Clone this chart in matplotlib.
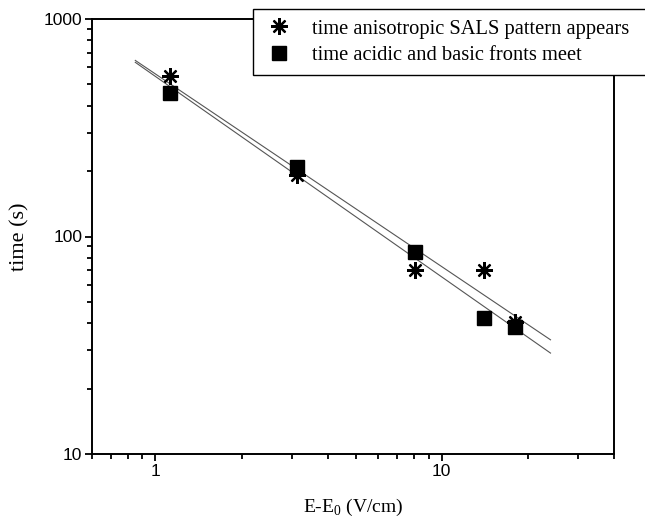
import numpy as np
import matplotlib
matplotlib.use("Agg")
import matplotlib.pyplot as plt
from matplotlib.ticker import LogLocator, NullFormatter, FixedLocator

# Data
field = [1.12, 3.12, 8.1, 14.1, 18.1]             # E-E0 (V/cm)
t_sals = [547, 192, 70, 70, 40.5]                 # time anisotropic SALS pattern appears (s)
t_fronts = [458, 209, 85, 42.4, 38.5]             # time acidic and basic fronts meet (s)
fit_range = [0.85, 24]
x_ticklabels = ["1", "10"]
y_ticklabels = ["10", "100", "1000"]
labels = ["time anisotropic SALS pattern appears", "time acidic and basic fronts meet"]

W, H = 645, 523
fig = plt.figure(figsize=(W / 100, H / 100), dpi=100)
ax = fig.add_axes([92 / W, 1 - 454 / H, (614 - 92) / W, (454 - 19) / H])
ax.set_xscale("log")
ax.set_yscale("log")

# least-squares fits in log-log space
xf = np.array(fit_range)
for y in (t_sals, t_fronts):
    p = np.polyfit(np.log10(field), np.log10(y), 1)
    ax.plot(xf, 10 ** np.polyval(p, np.log10(xf)), color="#555555", lw=0.8, zorder=2)

h1, = ax.plot(field, t_sals, linestyle="none", marker=(8, 2, 0), markersize=12,
              markeredgewidth=1.6, color="black", zorder=3)
h2, = ax.plot(field, t_fronts, linestyle="none", marker="s", markersize=9.5,
              color="black", zorder=3)

ax.set_xlim(0.6, 40)
ax.set_ylim(10, 1000)

ax.xaxis.set_major_locator(FixedLocator([1, 10]))
ax.set_xticklabels(x_ticklabels)
ax.xaxis.set_minor_locator(FixedLocator([0.6, 0.7, 0.8, 0.9, 2, 3, 4, 5, 6, 7, 8, 9, 20, 30, 40]))
ax.xaxis.set_minor_formatter(NullFormatter())
ax.yaxis.set_major_locator(FixedLocator([10, 100, 1000]))
ax.set_yticklabels(y_ticklabels)
ax.yaxis.set_minor_locator(LogLocator(base=10, subs=np.arange(2, 10)))
ax.yaxis.set_minor_formatter(NullFormatter())

for s in ax.spines.values():
    s.set_linewidth(1.4)
ax.tick_params(which="both", direction="out", top=False, right=False, width=1.3,
               labelsize=12.5, pad=2)
ax.tick_params(which="major", length=5)
ax.tick_params(which="minor", length=3.5)
for lab in ax.get_xticklabels() + ax.get_yticklabels():
    lab.set_family("Liberation Sans")

ax.set_xlabel(r"E-E$_\mathregular{0}$ (V/cm)", family="Liberation Serif", fontsize=14, labelpad=13)
ax.set_ylabel("time (s)", family="Liberation Serif", fontsize=16, labelpad=10)

leg = fig.legend([h1, h2], labels, loc="upper left", mode="expand",
                 bbox_to_anchor=(253 / W, 0, (665 - 253) / W, 1 - 9 / H), borderaxespad=0,
                 prop={"family": "Liberation Serif", "size": 14.75},
                 frameon=True, fancybox=False, edgecolor="black",
                 handlelength=1.5, handletextpad=0.9, borderpad=0.5,
                 labelspacing=0.33, framealpha=1)
leg.get_frame().set_linewidth(1.0)

fig.savefig("out.png", dpi=100)
